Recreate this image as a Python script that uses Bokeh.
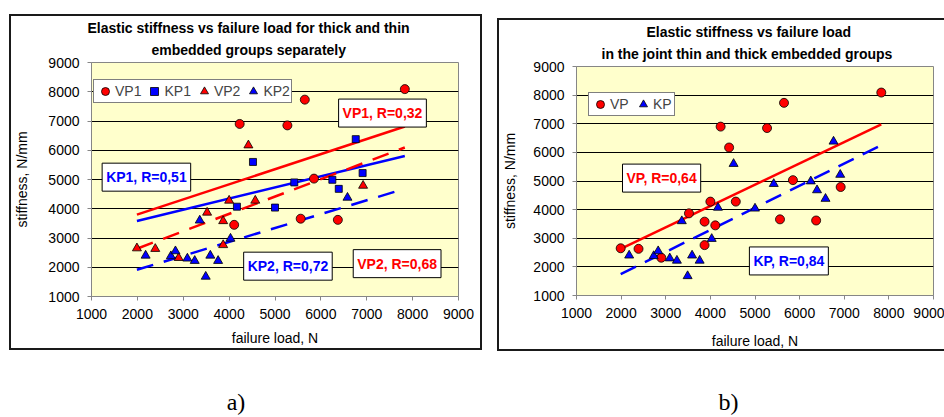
import numpy as np
from bokeh.plotting import figure
from bokeh.models import Range1d, FixedTicker, Label, Legend, LegendItem, Title
from bokeh.layouts import row, column
from bokeh.embed import file_html
from bokeh.resources import INLINE

# ---------------- data ----------------
vp1_x = [4230, 5270, 4110, 5650, 7830, 5850, 5560, 6370]
vp1_y = [6900, 6850, 3450, 7730, 8090, 5030, 3660, 3620]
kp1_x = [4170, 4520, 5000, 5420, 6250, 6390, 6760, 6910]
kp1_y = [4070, 5600, 4040, 4900, 4990, 4680, 6380, 5220]
vp2_x = [1990, 2390, 2900, 3520, 3870, 3870, 4000, 4420, 4570, 6920]
vp2_y = [2650, 2630, 2320, 3870, 3580, 2760, 4280, 6170, 4280, 4790]
kp2_x = [2180, 2730, 2830, 3090, 3250, 3360, 3490, 3590, 3760, 4030, 6580]
kp2_y = [2400, 2380, 2550, 2300, 2220, 3600, 1680, 2400, 2220, 2980, 4380]

x_ticks = [1000, 2000, 3000, 4000, 5000, 6000, 7000, 8000, 9000]
y_ticks = [1000, 2000, 3000, 4000, 5000, 6000, 7000, 8000, 9000]
grid_ticks = [2000, 3000, 4000, 5000, 6000, 7000, 8000]

title_a = ["Elastic stiffness vs failure load for thick and thin",
           "embedded groups separately"]
title_b = ["Elastic stiffness vs failure load",
           "in the joint thin and thick embedded groups"]
x_label = "failure load, N"
y_label = "stiffness, N/mm"
r_text_a = ["VP1, R=0,32", "KP1, R=0,51", "KP2, R=0,72", "VP2, R=0,68"]
r_text_b = ["VP, R=0,64", "KP, R=0,84"]
captions = ["a)", "b)"]

vp_x = vp1_x + vp2_x
vp_y = vp1_y + vp2_y
kp_x = kp1_x + kp2_x
kp_y = kp1_y + kp2_y

RED = "#FF0000"
BLUE = "#0000FF"
FONT = "Liberation Sans"
all_x = vp_x + kp_x
line_x = np.array([min(all_x), max(all_x)], dtype=float)


def trend(xs, ys):
    k, b = np.polyfit(np.array(xs, float), np.array(ys, float), 1)
    return line_x, k * line_x + b


def make_fig(fw, fh, ml, mr, mt, mb, y_std, ylab_std, x_std, xlab_std, styles, margin):
    p = figure(frame_width=fw, frame_height=fh,
               x_range=Range1d(1000, 9000), y_range=Range1d(1000, 9000),
               min_border_left=ml, min_border_right=mr,
               min_border_top=mt, min_border_bottom=mb,
               output_backend="svg", toolbar_location=None,
               background_fill_color="#FFFFCC", border_fill_color="white",
               outline_line_color="#868686", outline_line_width=1,
               styles=styles, margin=margin)
    p.xaxis.ticker = FixedTicker(ticks=x_ticks)
    p.yaxis.ticker = FixedTicker(ticks=y_ticks)
    p.xgrid.visible = False
    p.ygrid.ticker = FixedTicker(ticks=grid_ticks)
    p.ygrid.grid_line_color = "black"
    p.ygrid.grid_line_width = 1
    for ax in (p.xaxis[0], p.yaxis[0]):
        ax.axis_line_color = "#868686"
        ax.major_tick_line_color = "#868686"
        ax.major_tick_out = 4
        ax.major_tick_in = 0
        ax.minor_tick_line_color = None
        ax.major_label_text_font = FONT
        ax.major_label_text_font_size = "14px"
        ax.major_label_text_color = "black"
        ax.axis_label_text_font = FONT
        ax.axis_label_text_font_size = "14px"
        ax.axis_label_text_font_style = "normal"
        ax.axis_label_text_color = "black"
    p.yaxis.major_label_standoff = y_std
    p.yaxis.axis_label_standoff = ylab_std
    p.xaxis.major_label_standoff = x_std
    p.xaxis.axis_label_standoff = xlab_std
    p.xaxis.axis_label = x_label
    p.yaxis.axis_label = y_label
    return p


def add_title(p, lines, offsets, standoffs):
    # the line nearest to the frame is added first
    for t, off, st in reversed(list(zip(lines, offsets, standoffs))):
        p.add_layout(Title(text=t, align="left", offset=off, standoff=st,
                           text_font=FONT, text_font_style="bold",
                           text_line_height=0.85,
                           text_font_size="14px", text_color="black"), "above")


def add_box(p, x, y, t, color):
    p.add_layout(Label(x=x, y=y, text=t, text_font=FONT, text_font_style="bold",
                       text_font_size="14px", text_align="center", text_baseline="middle",
                       text_color=color, background_fill_color="white",
                       border_line_color="black", border_line_width=1,
                       padding=dict(left=4, right=4, top=6, bottom=6)))


def make_legend(items, loc):
    return Legend(items=items, location=loc, orientation="horizontal",
                  label_text_font=FONT, label_text_font_size="14px",
                  glyph_width=20, glyph_height=20, label_height=20,
                  label_standoff=-4, spacing=3, padding=1, margin=0,
                  border_line_color="black", border_line_width=1,
                  background_fill_color="white", background_fill_alpha=1.0)


# ---------------- panel a ----------------
pa = make_fig(363, 230, 80, 26, 46, 56, 8, 15, 8, 8,
              {"border": "2px solid #1a1a1a"}, (14, 0, 0, 9))

lx, ly = trend(vp1_x, vp1_y)
pa.line(lx, ly, line_color=RED, line_width=2.5)
lx, ly = trend(kp1_x, kp1_y)
pa.line(lx, ly, line_color=BLUE, line_width=2.5)
lx, ly = trend(vp2_x, vp2_y)
pa.line(lx, ly, line_color=RED, line_width=2.5, line_dash="17 11")
lx, ly = trend(kp2_x, kp2_y)
pa.line(lx, ly, line_color=BLUE, line_width=2.5, line_dash="17 11")

r_vp1 = pa.scatter(vp1_x, vp1_y, marker="circle", size=9, fill_color=RED, line_color="black", line_width=0.8)
r_kp1 = pa.scatter(kp1_x, kp1_y, marker="square", size=7, fill_color=BLUE, line_color="black", line_width=0.8)
r_vp2 = pa.scatter(vp2_x, vp2_y, marker="triangle", size=9, fill_color=RED, line_color="black", line_width=0.8)
r_kp2 = pa.scatter(kp2_x, kp2_y, marker="triangle", size=9, fill_color=BLUE, line_color="black", line_width=0.8)

pa.add_layout(make_legend([LegendItem(label="VP1", renderers=[r_vp1]),
                           LegendItem(label="KP1", renderers=[r_kp1]),
                           LegendItem(label="VP2", renderers=[r_vp2]),
                           LegendItem(label="KP2", renderers=[r_kp2])], (2, 193)))

add_title(pa, title_a, [-4, 60], [0, 9])
add_box(pa, 7343, 7271, r_text_a[0], RED)
add_box(pa, 2197, 5080, r_text_a[1], BLUE)
add_box(pa, 5282, 2037, r_text_a[2], BLUE)
add_box(pa, 7662, 2123, r_text_a[3], RED)

# ---------------- panel b ----------------
pb = make_fig(355, 225, 76, 13, 46, 58, 8, 12, 8, 12,
              {"border-left": "2px solid #1a1a1a", "border-top": "2px solid #1a1a1a",
               "border-bottom": "2px solid #1a1a1a"}, (18, 0, 0, 15))

lx, ly = trend(vp_x, vp_y)
pb.line(lx, ly, line_color=RED, line_width=2.5)
lx, ly = trend(kp_x, kp_y)
pb.line(lx, ly, line_color=BLUE, line_width=2.5, line_dash="17 10")

r_vp = pb.scatter(vp_x, vp_y, marker="circle", size=9, fill_color=RED, line_color="black", line_width=0.8)
r_kp = pb.scatter(kp_x, kp_y, marker="triangle", size=9, fill_color=BLUE, line_color="black", line_width=0.8)

pb.add_layout(make_legend([LegendItem(label="VP", renderers=[r_vp]),
                           LegendItem(label="KP", renderers=[r_kp])], (12, 179)))

add_title(pb, title_b, [70, 25], [0, 9])
add_box(pb, 2907, 5101, r_text_b[0], RED)
add_box(pb, 5759, 2207, r_text_b[1], BLUE)

# ---------------- captions ----------------
pc = figure(width=943, height=64, x_range=Range1d(0, 943), y_range=Range1d(415, 351),
            x_axis_type=None, y_axis_type=None, min_border=0,
            output_backend="svg", toolbar_location=None,
            outline_line_color=None, background_fill_color="white",
            border_fill_color="white")
pc.grid.visible = False
for t, x in zip(captions, [235.5, 728]):
    pc.add_layout(Label(x=x, y=401, text=t, text_font="Liberation Serif",
                        text_font_size="24px", text_align="center",
                        text_baseline="middle", text_color="black"))

layout = column(row(pa, pb), pc)
open("out.html", "w").write(file_html(layout, INLINE))
